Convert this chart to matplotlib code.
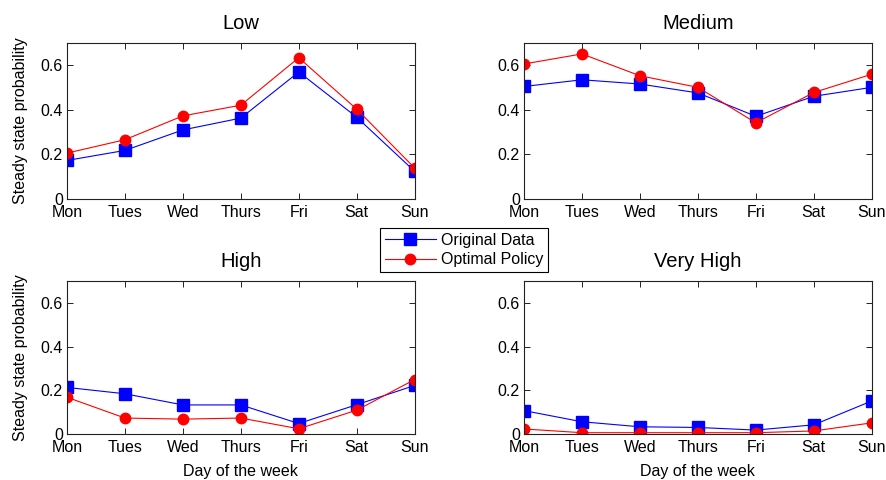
import matplotlib
matplotlib.use("Agg")
import matplotlib.pyplot as plt

plt.rcParams["font.family"] = ["Liberation Sans", "DejaVu Sans"]

days = ["Mon", "Tues", "Wed", "Thurs", "Fri", "Sat", "Sun"]
titles = ["Low", "Medium", "High", "Very High"]

low_orig = [0.173, 0.218, 0.31, 0.363, 0.570, 0.367, 0.124]
low_opt = [0.206, 0.266, 0.373, 0.421, 0.634, 0.403, 0.139]
med_orig = [0.505, 0.535, 0.516, 0.476, 0.371, 0.461, 0.501]
med_opt = [0.606, 0.651, 0.553, 0.501, 0.342, 0.478, 0.560]
high_orig = [0.213, 0.184, 0.133, 0.133, 0.048, 0.134, 0.222]
high_opt = [0.168, 0.073, 0.068, 0.073, 0.024, 0.109, 0.249]
vhigh_orig = [0.107, 0.056, 0.033, 0.030, 0.018, 0.042, 0.151]
vhigh_opt = [0.023, 0.006, 0.006, 0.006, 0.006, 0.014, 0.051]

series = [(low_orig, low_opt), (med_orig, med_opt),
          (high_orig, high_opt), (vhigh_orig, vhigh_opt)]

fig = plt.figure(figsize=(8.87, 4.8), dpi=100)
# [left, bottom, width, height] in figure fraction
boxes = [[0.0755, 0.5854, 0.392, 0.325], [0.5908, 0.5854, 0.392, 0.325],
         [0.0755, 0.0958, 0.392, 0.319], [0.5908, 0.0958, 0.392, 0.319]]
x = list(range(1, len(days) + 1))
fs = 11.5

for i, (box, (orig, opt)) in enumerate(zip(boxes, series)):
    ax = fig.add_axes(box)
    ax.plot(x, orig, "-s", color="blue", lw=0.8, ms=8.5, label="Original Data")
    ax.plot(x, opt, "-o", color="red", lw=0.8, ms=7.5, label="Optimal Policy")
    ax.set_xlim(1, 7)
    ax.set_ylim(0, 0.7)
    ax.set_xticks(x)
    ax.set_xticklabels(days, fontsize=fs)
    ax.set_yticks([0, 0.2, 0.4, 0.6])
    ax.set_yticklabels(["0", "0.2", "0.4", "0.6"], fontsize=fs)
    ax.tick_params(direction="in", top=True, right=True, length=4, width=0.6)
    ax.tick_params(axis="x", pad=4)
    ax.tick_params(axis="y", pad=3)
    for s in ax.spines.values():
        s.set_linewidth(0.8)
        s.set_color("#222222")
    ax.set_title(titles[i], fontsize=14.5, pad=10)
    if i % 2 == 0:
        ax.set_ylabel("Steady state probability", fontsize=fs, labelpad=9)
    if i >= 2:
        ax.set_xlabel("Day of the week", fontsize=fs, labelpad=7)
    if i == 0:
        handles, labels = ax.get_legend_handles_labels()

leg = fig.legend(handles, labels, loc="center", bbox_to_anchor=(0.523, 0.479),
                 fontsize=fs, fancybox=False, framealpha=1, edgecolor="black",
                 handlelength=3.2, borderpad=0.3, labelspacing=0.3, handletextpad=0.3)
leg.get_frame().set_linewidth(0.8)

fig.savefig("out.png", dpi=100)
